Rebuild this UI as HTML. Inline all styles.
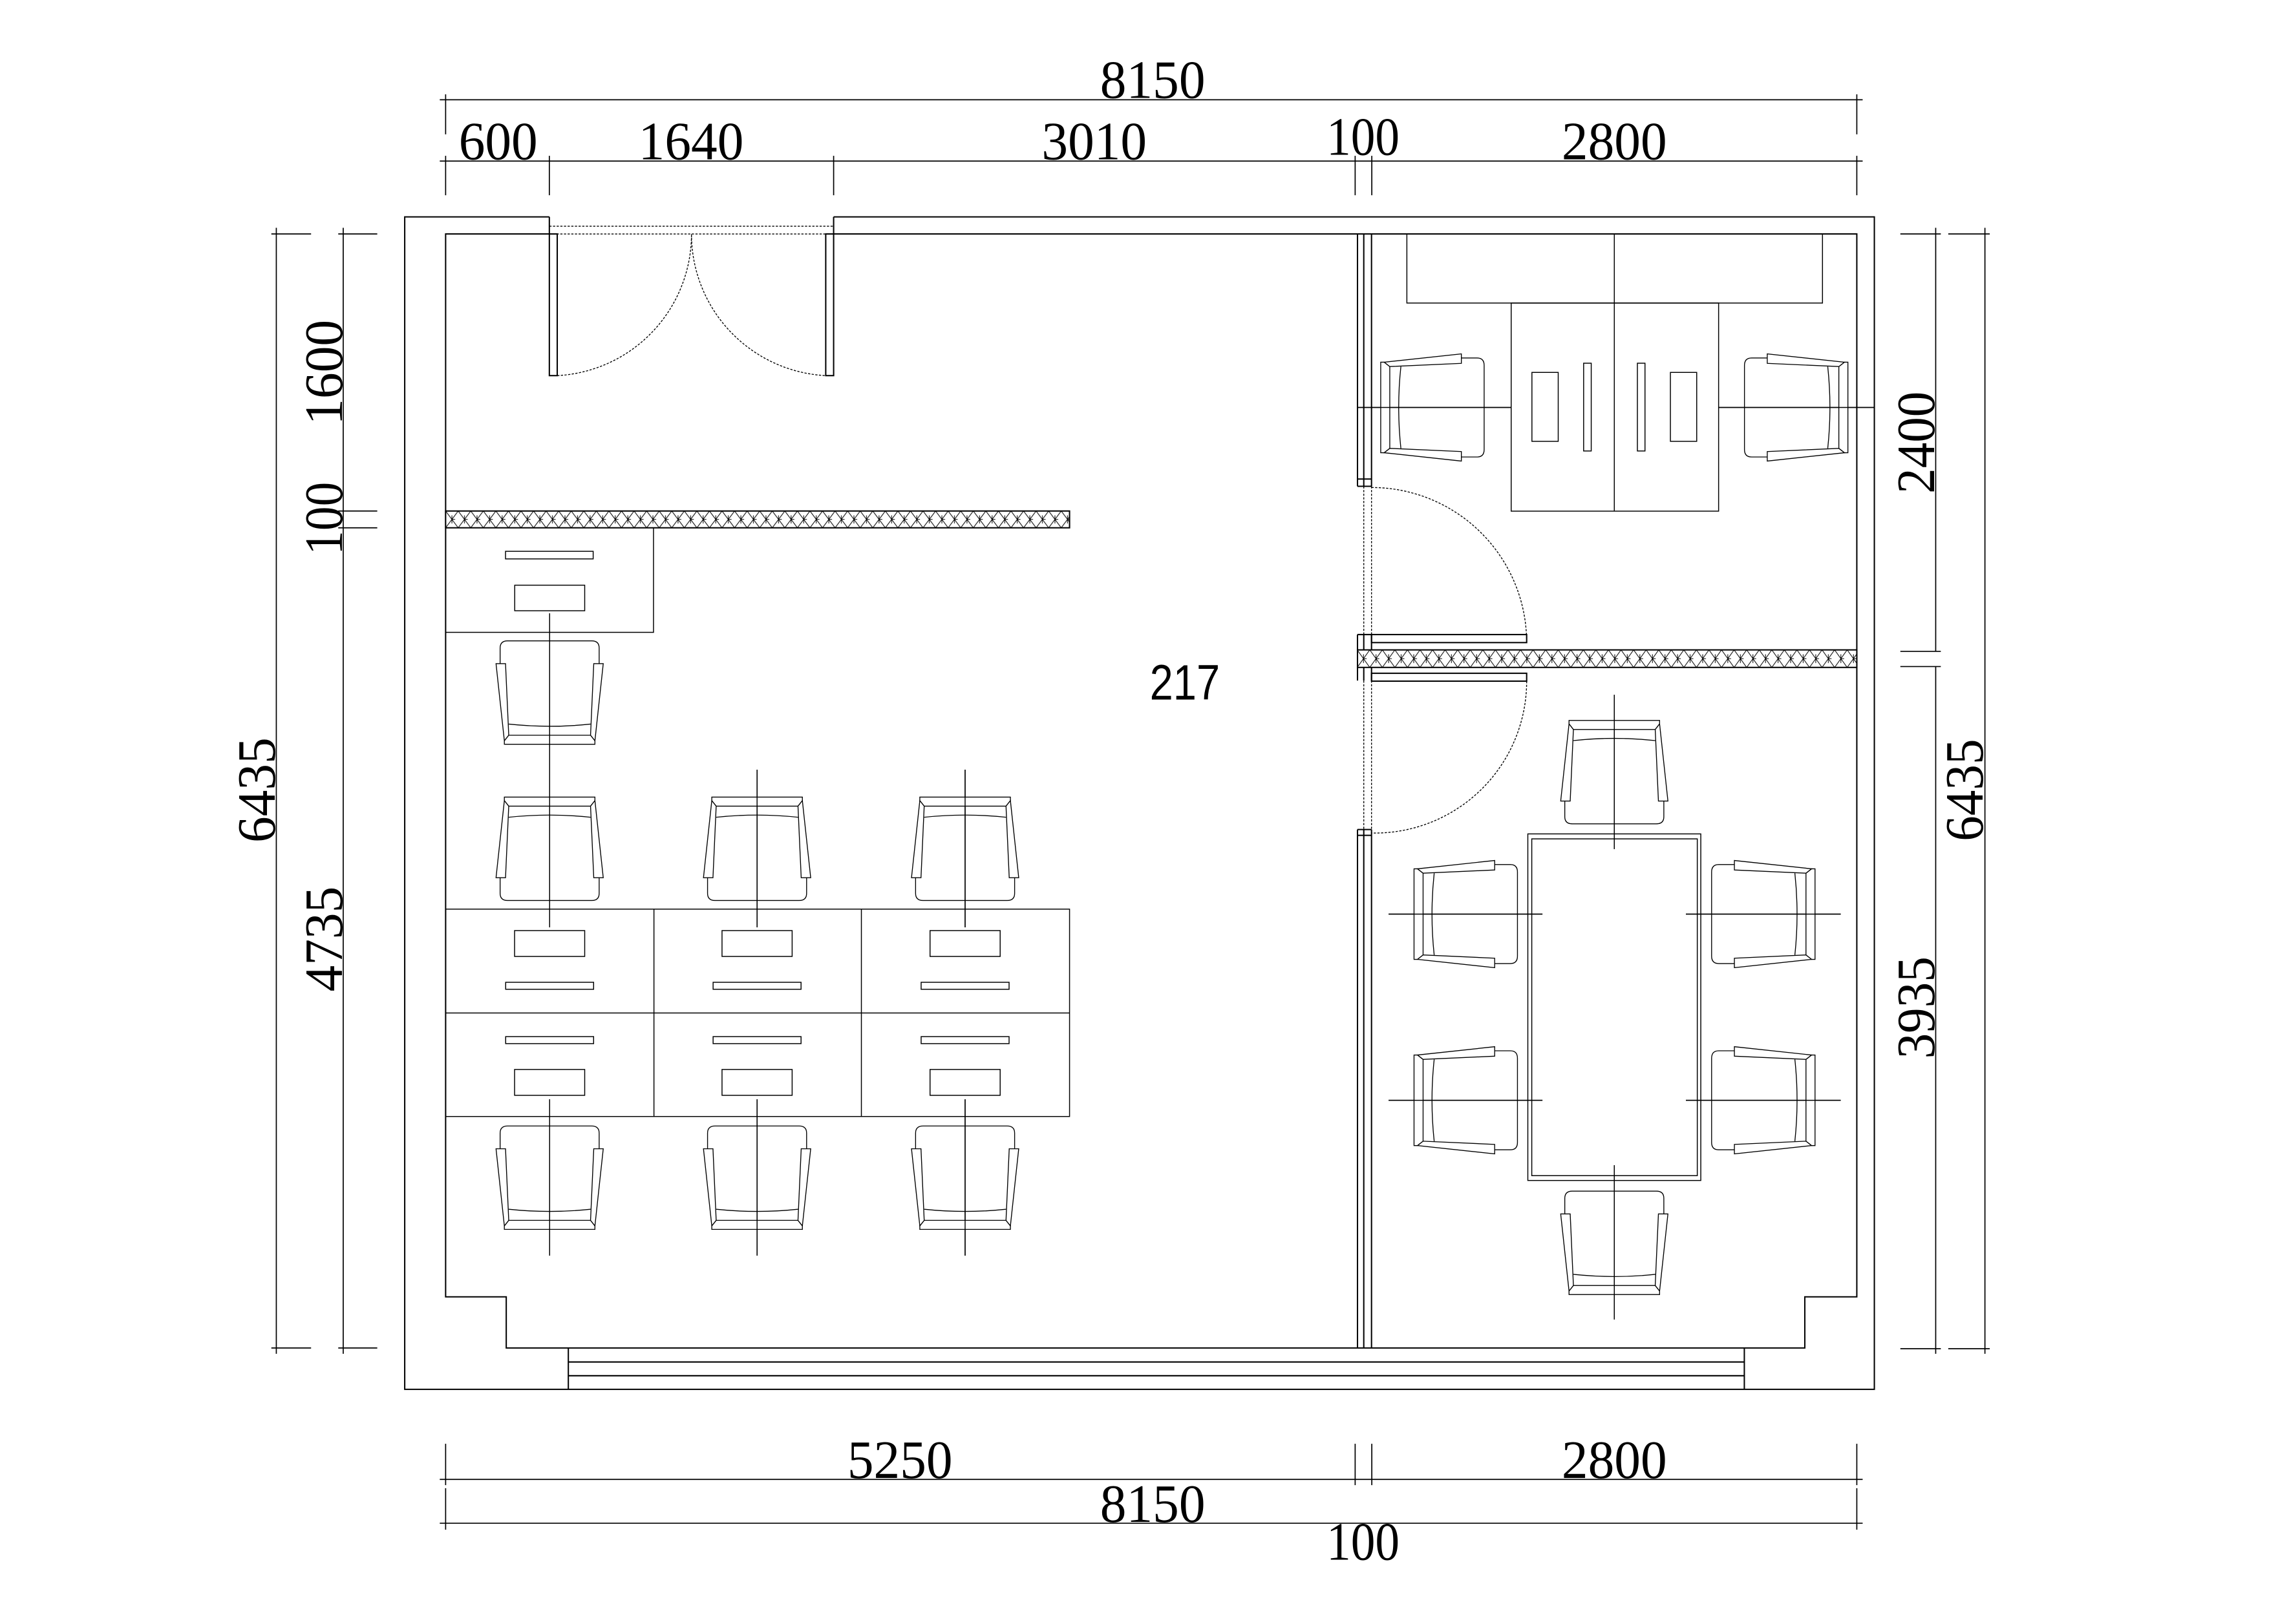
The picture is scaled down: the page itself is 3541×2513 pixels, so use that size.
<!DOCTYPE html>
<html><head><meta charset="utf-8"><style>
html,body{margin:0;padding:0;background:#fff}
svg{display:block}
text{font-family:"Liberation Serif",serif;font-size:37px;fill:#000}
</style></head><body>
<svg width="3541" height="2513" viewBox="0 0 1566.8 1112" xmlns="http://www.w3.org/2000/svg">
<defs>
<pattern id="h" patternUnits="userSpaceOnUse" x="305" y="349.9" width="8.6" height="11.5">
<rect width="8.6" height="11.5" fill="#fff"/>
<path d="M0,0 L8.6,11.5 M8.6,0 L0,11.5 M4.3,3 V8.5 M4.3,5.75 H6.5" stroke="#000" stroke-width="0.45" fill="none"/>
</pattern>
<pattern id="h2" patternUnits="userSpaceOnUse" x="929" y="445" width="8.6" height="12">
<rect width="8.6" height="12" fill="#fff"/>
<path d="M0,0 L8.6,12 M8.6,0 L0,12 M4.3,3 V9 M4.3,6 H6.5" stroke="#000" stroke-width="0.45" fill="none"/>
</pattern>
<g id="ch" fill="#fff" stroke="#000" stroke-width="0.6">
<polygon points="-31,-35.4 31,-35.4 31,-33 28,-29.2 -28,-29.2 -31,-33"/>
<polygon points="-31,-33 -28,-29.2 -30.2,19.8 -36.7,19.8"/>
<polygon points="31,-33 28,-29.2 30.2,19.8 36.7,19.8"/>
<path d="M-28,-21.6 Q0,-24.6 28,-21.6" fill="none"/>
<path d="M-33.9,19.8 V30.5 Q-33.9,35.4 -28.8,35.4 H28.8 Q33.9,35.4 33.9,30.5 V19.8" fill="none"/>
</g>
</defs>
<g fill="none" stroke="#000" stroke-width="0.9">
<!-- outer walls -->
<path d="M376,148.5 H277 V951.3 H1283 V148.5 H570.6"/>
<path d="M376,148.5 V160 M570.6,148.5 V160"/>
<path d="M376,154.9 H570.6 M376,160.2 H570.6" stroke-dasharray="1.5 1" stroke-width="0.6"/>
<path d="M376,160.2 H305 V888 H346.5 V923 H1235.4 V888 H1271 V160.2 H570.6"/>
<!-- window -->
<path d="M389,923 V951.3 M1194,923 V951.3 M389,932.6 H1194 M389,942 H1194"/>
<!-- entry door -->
<rect x="376" y="160.2" width="5.4" height="97"/>
<rect x="565.2" y="160.2" width="5.4" height="97"/>
<path d="M381.4,257.2 A97,97 0 0 0 473.3,160.2 A97,97 0 0 0 565.2,257.2" stroke-dasharray="1.5 1" stroke-width="0.6"/>
<!-- partition -->
<path d="M929.2,160.2 V333 M933.5,160.2 V333 M938.8,160.2 V333 M929.2,333 H938.8 M929.2,328 H938.8"/>
<path d="M933.5,333 V434.5 M938.8,333 V434.5" stroke-dasharray="1.5 1" stroke-width="0.6"/>
<path d="M929.2,434.5 V445 M933.5,434.5 V445 M938.8,434.5 V445 M929.2,434.5 H938.8"/>
<path d="M929.2,457 V466 M933.5,457 V466 M938.8,457 V466"/>
<path d="M933.5,466 V568 M938.8,466 V568" stroke-dasharray="1.5 1" stroke-width="0.6"/>
<path d="M929.2,568 V923 M933.5,568 V923 M938.8,568 V923 M929.2,568 H938.8 M929.2,572 H938.8"/>
<rect x="938.8" y="434.5" width="106.2" height="5.5"/>
<rect x="938.8" y="461" width="106.2" height="5.4"/>
<path d="M938.8,333.8 A106.2,106.2 0 0 1 1045,440" stroke-dasharray="1.5 1" stroke-width="0.6"/>
<path d="M1045,466.4 A104,104 0 0 1 938.8,570.4" stroke-dasharray="1.5 1" stroke-width="0.6"/>
<!-- hatched walls -->
<rect x="305" y="349.9" width="427.1" height="11.5" fill="url(#h)"/>
<rect x="929.2" y="445" width="341.8" height="12" fill="url(#h2)"/>
</g>
<g fill="none" stroke="#000" stroke-width="0.65">
<!-- small desk -->
<path d="M305,433 H447.3 V361.4"/>
<rect x="346" y="377.5" width="60" height="5.2"/>
<rect x="352.3" y="400.7" width="47.9" height="17.5"/>
<!-- desk grid -->
<rect x="305" y="622.5" width="427.1" height="142"/>
<path d="M447.6,622.5 V764.5 M589.6,622.5 V764.5 M305,693.6 H732.1"/>
<g id="dr">
<rect x="352.2" y="637.2" width="48" height="17.7"/>
<rect x="346.1" y="672.6" width="60.2" height="4.8"/>
<rect x="346.1" y="709.8" width="60.2" height="4.8"/>
<rect x="352.2" y="732.3" width="48" height="17.7"/>
</g>
<use href="#dr" x="142"/>
<use href="#dr" x="284.4"/>
<!-- centerlines -->
<path d="M376.2,420 V635 M518.2,527 V635 M660.6,527 V635 M376.2,752.7 V859.8 M518.2,752.7 V859.8 M660.6,752.7 V859.8"/>
<!-- right office -->
<rect x="963" y="160.2" width="284.5" height="47.3"/>
<rect x="1034.4" y="207.5" width="142" height="142.5"/>
<path d="M1105,160.2 V350"/>
<rect x="1048.6" y="255" width="18" height="47.2"/>
<rect x="1084" y="248.7" width="5.2" height="60.1"/>
<rect x="1120.8" y="248.7" width="5.2" height="60.1"/>
<rect x="1143.4" y="255" width="18" height="47.2"/>
<path d="M929.2,279 H1034.4 M1176.4,279 H1283"/>
<!-- conference -->
<rect x="1045.8" y="571" width="118.4" height="237.3"/>
<rect x="1048.5" y="574.4" width="113.3" height="230.6"/>
<path d="M1105,475.7 V581.4 M1105,797.8 V903.5 M950.5,625.9 H1055.8 M950.5,753.4 H1055.8 M1154,625.9 H1260 M1154,753.4 H1260"/>
</g>
<!-- chairs -->
<use href="#ch" transform="translate(376.2,474.2) rotate(180)"/>
<use href="#ch" transform="translate(376.2,581.2)"/>
<use href="#ch" transform="translate(518.2,581.2)"/>
<use href="#ch" transform="translate(660.6,581.2)"/>
<use href="#ch" transform="translate(376.2,806.4) rotate(180)"/>
<use href="#ch" transform="translate(518.2,806.4) rotate(180)"/>
<use href="#ch" transform="translate(660.6,806.4) rotate(180)"/>
<use href="#ch" transform="translate(980.5,279) rotate(-90)"/>
<use href="#ch" transform="translate(1229.5,279) rotate(90)"/>
<use href="#ch" transform="translate(1105,528.7)"/>
<use href="#ch" transform="translate(1105,851) rotate(180)"/>
<use href="#ch" transform="translate(1003.3,625.9) rotate(-90)"/>
<use href="#ch" transform="translate(1003.3,753.4) rotate(-90)"/>
<use href="#ch" transform="translate(1207,625.9) rotate(90)"/>
<use href="#ch" transform="translate(1207,753.4) rotate(90)"/>
<!-- redraw centerlines over chairs -->
<g stroke="#000" stroke-width="0.65" fill="none">
<path d="M376.2,420 V635 M518.2,527 V635 M660.6,527 V635 M376.2,752.7 V859.8 M518.2,752.7 V859.8 M660.6,752.7 V859.8"/>
<path d="M929.2,279 H1034.4 M1176.4,279 H1283"/>
<path d="M1105,475.7 V581.4 M1105,797.8 V903.5 M950.5,625.9 H1055.8 M950.5,753.4 H1055.8 M1154,625.9 H1260 M1154,753.4 H1260"/>
</g>
<!-- dimensions -->
<g stroke="#000" stroke-width="0.75" fill="none">
<path d="M301,68.3 H1275 M301,110.3 H1275"/>
<path d="M305,64.6 V92 M1271,64.6 V92"/>
<path d="M305,106.7 V133.7 M376,106.7 V133.7 M570.6,106.7 V133.7 M927.6,106.7 V133.7 M939,106.7 V133.7 M1271,106.7 V133.7"/>
<path d="M301,1013 H1275 M301,1043 H1275"/>
<path d="M305,988.6 V1016.9 M927.6,988.6 V1016.9 M939,988.6 V1016.9 M1271,988.6 V1016.9"/>
<path d="M305,1019 V1047.4 M1271,1019 V1047.4"/>
<path d="M189.1,156 V927 M234.9,156 V927"/>
<path d="M185.7,160.2 H212.9 M185.7,923 H212.9"/>
<path d="M231.5,160.2 H258.2 M231.5,349.9 H258.2 M231.5,361.4 H258.2 M231.5,923 H258.2"/>
<path d="M1325,156 V446 M1325,456.4 V927 M1358.7,156 V927"/>
<path d="M1300.8,160.2 H1328.5 M1300.8,446 H1328.5 M1300.8,456.4 H1328.5 M1300.8,923.5 H1328.5"/>
<path d="M1333.6,160.2 H1362 M1333.6,923.5 H1362"/>
</g>
<g text-anchor="middle">
<text x="789" y="67" textLength="72" lengthAdjust="spacingAndGlyphs">8150</text>
<text x="341" y="109" textLength="54" lengthAdjust="spacingAndGlyphs">600</text>
<text x="473" y="109" textLength="72" lengthAdjust="spacingAndGlyphs">1640</text>
<text x="749" y="109" textLength="72" lengthAdjust="spacingAndGlyphs">3010</text>
<text x="933" y="106" textLength="50" lengthAdjust="spacingAndGlyphs">100</text>
<text x="1105" y="109" textLength="72" lengthAdjust="spacingAndGlyphs">2800</text>
<text x="616" y="1012" textLength="72" lengthAdjust="spacingAndGlyphs">5250</text>
<text x="1105" y="1012" textLength="72" lengthAdjust="spacingAndGlyphs">2800</text>
<text x="789" y="1042" textLength="72" lengthAdjust="spacingAndGlyphs">8150</text>
<text x="933" y="1068" textLength="50" lengthAdjust="spacingAndGlyphs">100</text>
<text transform="translate(188,541) rotate(-90)" textLength="72" lengthAdjust="spacingAndGlyphs">6435</text>
<text transform="translate(234,255) rotate(-90)" textLength="72" lengthAdjust="spacingAndGlyphs">1600</text>
<text transform="translate(234,355) rotate(-90)" textLength="50" lengthAdjust="spacingAndGlyphs">100</text>
<text transform="translate(234,643) rotate(-90)" textLength="72" lengthAdjust="spacingAndGlyphs">4735</text>
<text transform="translate(1324,303) rotate(-90)" textLength="70" lengthAdjust="spacingAndGlyphs">2400</text>
<text transform="translate(1324,690) rotate(-90)" textLength="70" lengthAdjust="spacingAndGlyphs">3935</text>
<text transform="translate(1357,541) rotate(-90)" textLength="70" lengthAdjust="spacingAndGlyphs">6435</text>
<text x="811" y="479" textLength="48" lengthAdjust="spacingAndGlyphs" style="font-family:'Liberation Sans',sans-serif;font-size:34px">217</text>
</g>
</svg>
</body></html>
